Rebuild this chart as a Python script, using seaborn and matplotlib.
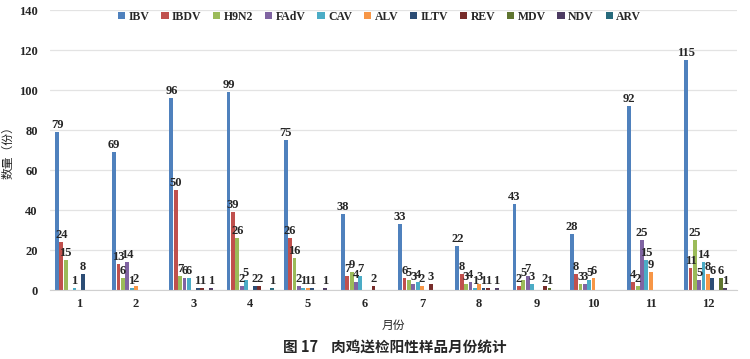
import numpy as np
import pandas as pd
import seaborn as sns
import matplotlib.pyplot as plt

# Data
months = ["1", "2", "3", "4", "5", "6", "7", "8", "9", "10", "11", "12"]
viruses = ["IBV", "IBDV", "H9N2", "FAdV", "CAV", "ALV", "ILTV", "REV", "MDV", "NDV", "ARV"]

ibv  = [79, 69, 96, 99, 75, 38, 33, 22, 43, 28, 92, 115]
ibdv = [24, 13, 50, 39, 26, 7, 6, 8, 2, 8, 4, 11]
h9n2 = [15, 6, 7, 26, 16, 9, 5, 3, 5, 3, 2, 25]
fadv = [0, 14, 6, 2, 2, 4, 3, 4, 7, 3, 25, 5]
cav  = [1, 1, 6, 5, 1, 7, 4, 1, 3, 5, 15, 14]
alv  = [0, 2, 0, 0, 1, 0, 2, 3, 0, 6, 9, 8]
iltv = [8, 0, 1, 2, 1, 0, 0, 1, 0, 0, 0, 6]
rev  = [0, 0, 1, 2, 0, 2, 3, 1, 2, 0, 0, 0]
mdv  = [0, 0, 0, 0, 0, 0, 0, 0, 1, 0, 0, 6]
ndv  = [0, 0, 1, 0, 1, 0, 0, 1, 0, 0, 0, 1]
arv  = [0, 0, 0, 1, 0, 0, 0, 0, 0, 0, 0, 0]

colors = ["#4F81BD", "#C0504D", "#9BBB59", "#8064A2", "#4BACC6", "#F79646",
          "#2C4D75", "#772C2A", "#5F7530", "#4D3B62", "#276A7C"]

series = [ibv, ibdv, h9n2, fadv, cav, alv, iltv, rev, mdv, ndv, arv]
df = pd.DataFrame({
    "月份": np.tile(months, len(viruses)),
    "病毒": np.repeat(viruses, len(months)),
    "数量": np.concatenate(series),
})

sns.set_style("white")
plt.rcParams["font.family"] = "Liberation Serif"
plt.rcParams["font.weight"] = "bold"
cjk = ["Noto Sans CJK SC", "Liberation Serif"]

fig = plt.figure(figsize=(7.5, 3.59), dpi=100)
ax = fig.add_axes([0.067, 0.192, 0.915, 0.78])

sns.barplot(data=df, x="月份", y="数量", hue="病毒", order=months, hue_order=viruses,
            palette=colors, width=0.84, gap=0.12, saturation=1, linewidth=0,
            ax=ax, legend=True)

for cont, vals in zip(ax.containers, series):
    ax.bar_label(cont, labels=[str(v) if v > 0 else "" for v in vals],
                 fontsize=9, fontweight="bold", padding=1)

ax.set_ylim(0, 140)
ax.set_yticks(range(0, 141, 20))
ax.set_xlim(-0.5, 11.5)
ax.yaxis.grid(True, color="#E3E3E3", linewidth=0.9)
ax.set_axisbelow(True)
for s in ["left", "right", "top"]:
    ax.spines[s].set_visible(False)
ax.spines["bottom"].set_color("#D0D0D0")
ax.tick_params(axis="y", length=0, labelsize=9, pad=9)
ax.tick_params(axis="x", which="major", length=0, labelsize=9, pad=6)
ax.set_xticks(np.arange(-0.5, 12, 1), minor=True)
ax.tick_params(axis="x", which="minor", length=4, color="#D0D0D0")

ax.set_xlabel("月份", fontsize=8.5, family=cjk, labelpad=6)
ax.set_ylabel("数量（份）", fontsize=8.5, family=cjk, labelpad=3)

leg = ax.legend(loc="upper center", bbox_to_anchor=(0.48, 1.035), ncol=11, frameon=False,
                fontsize=8.5, handlelength=0.6, handleheight=0.6, handletextpad=0.3,
                columnspacing=1.0)
for t in leg.get_texts():
    t.set_fontweight("bold")

fig.text(0.527, 0.02, "图 17    肉鸡送检阳性样品月份统计", ha="center", fontsize=10.5,
         family=cjk)

fig.savefig("out.png", dpi=100)
